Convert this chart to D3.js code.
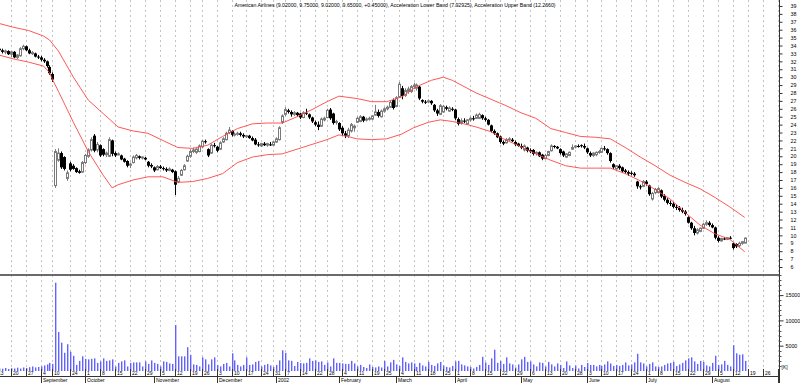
<!DOCTYPE html>
<html><head><meta charset="utf-8">
<script src="https://cdn.jsdelivr.net/npm/d3@7"></script>
<style>
body{margin:0;background:#fff}
svg{display:block}
text{font-family:"Liberation Sans",Arial,sans-serif;fill:#000}
</style>
</head><body>
<svg id="chart" width="800" height="383"></svg>
<script>
// ---------------- DATA ----------------
const titleText = "American Airlines (9.02000, 9.75000, 9.02000, 9.65000, +0.45000), Acceleration Lower Band (7.92925), Acceleration Upper Band (12.2660)";
const calendarStart = "2001-08-13";
const calendarEnd = "2002-09-06";
const dataStart = "2001-08-14";
const holidays = ["2001-09-03","2001-09-11","2001-09-12","2001-09-13","2001-09-14","2001-11-22","2001-12-25","2002-01-01","2002-01-21","2002-02-18","2002-03-29","2002-05-27","2002-07-04","2002-09-02"];
const monthNames = ["2002","February","March","April","May","June","July","August","September","October","November","December"];
const priceTicks = [6,7,8,9,10,11,12,13,14,15,16,17,18,19,20,21,22,23,24,25,26,27,28,29,30,31,32,33,34,35,36,37,38,39];
const volumeTicks = [5000,10000,15000];
const volumeUnitLabel = "[K]";

const opens = [33.6,33.4,33.2,33.3,32.9,33.2,32.5,32.7,33.6,33.9,33.4,33.0,33.0,32.6,32.5,32.2,32.0,31.3,30.4,
16.3,19.5,20.4,19.9,17.2,19.1,18.8,18.5,18.1,18.0,
19.2,20.0,20.8,22.6,20.8,21.4,20.9,20.2,20.0,22.0,
20.4,20.2,20.1,19.7,19.4,18.9,19.2,19.8,20.0,19.8,
19.8,19.3,18.9,18.6,18.3,18.7,18.5,18.4,18.2,18.3,
18.1,16.8,17.6,18.3,19.4,20.0,20.6,20.5,20.6,21.2,
21.9,20.9,20.4,21.4,21.2,20.9,21.8,22.1,23.0,23.2,
22.7,22.8,22.9,22.7,22.5,22.6,22.3,22.1,21.5,21.3,
21.6,21.4,21.5,21.4,21.8,22.1,24.3,25.3,25.8,25.6,
25.3,25.5,25.4,24.9,25.5,25.3,24.9,24.3,24.0,23.8,
24.6,24.9,25.9,25.4,24.3,24.2,23.6,22.9,22.6,23.2,
23.6,24.3,24.4,25.0,24.6,24.7,24.7,25.2,25.6,25.0,
25.7,26.0,26.2,27.1,26.3,27.5,28.6,27.7,28.2,28.2,
28.8,28.6,28.8,27.1,26.9,26.9,27.0,26.5,25.8,25.3,
25.6,26.2,25.7,26.0,25.9,24.7,24.2,24.5,24.1,24.6,
24.8,24.8,24.8,25.2,24.8,24.6,23.9,23.2,22.9,22.5,
21.8,21.7,22.1,22.1,21.8,21.6,21.3,20.8,21.1,20.8,
20.8,20.4,20.5,20.2,19.7,20.1,20.7,21.3,21.2,20.9,
20.6,19.9,20.1,20.9,21.2,21.3,21.4,21.3,21.0,20.4,
20.1,20.2,20.5,20.5,21.0,20.9,20.4,19.0,18.4,18.8,
18.6,18.2,18.0,17.9,17.8,16.8,16.2,16.2,16.8,16.3,
14.6,15.4,15.4,15.7,15.0,14.5,14.1,14.0,13.6,13.5,
13.2,13.0,12.3,11.6,10.9,10.3,10.5,10.9,11.4,11.6,
11.3,11.0,9.7,9.3,9.6,9.5,9.7,9.0,8.9,8.7,
9.0,9.02];

const highs = [33.9,33.6,33.5,33.4,33.3,33.3,32.9,33.8,34.1,34.0,33.6,33.3,33.1,32.8,32.7,32.4,32.1,31.5,30.6,
20.9,21.0,20.6,20.0,18.2,19.3,19.0,18.6,18.3,19.4,
20.3,21.0,22.4,22.8,21.8,21.5,21.0,20.6,22.4,22.1,
20.6,20.5,20.2,19.8,19.5,19.2,20.1,20.3,20.1,20.0,
19.9,19.4,19.1,18.7,18.9,18.9,18.7,18.6,18.6,18.4,
18.2,17.5,18.4,19.0,20.2,20.9,21.1,21.0,21.5,22.1,
22.1,21.0,21.6,21.7,21.3,21.9,22.4,23.1,23.7,23.3,
23.0,23.1,23.1,22.9,22.7,22.7,22.5,22.3,21.8,21.7,
21.8,21.7,21.8,21.9,22.4,23.8,25.3,26.2,26.0,25.8,
25.7,25.6,25.5,25.7,26.0,25.4,25.0,24.5,24.4,24.9,
25.0,26.0,26.1,25.5,24.6,24.3,23.8,23.2,23.6,24.2,
24.0,25.0,25.2,25.1,24.9,25.0,25.2,26.5,25.9,25.9,
26.2,26.4,27.0,27.3,27.6,29.4,28.9,28.6,28.8,29.0,
29.3,29.2,28.9,27.2,27.1,27.2,27.1,26.6,26.0,26.6,
26.5,26.4,26.3,26.2,26.0,24.9,24.8,24.8,24.7,25.0,
25.1,25.4,25.5,25.3,25.0,24.7,24.0,23.4,23.0,22.6,
22.0,22.3,22.4,22.3,22.0,21.7,21.6,21.5,21.2,21.0,
20.9,20.6,20.6,20.3,20.3,20.7,21.5,21.4,21.3,21.0,
20.7,20.4,20.6,21.5,21.4,21.5,21.5,21.6,21.1,20.6,
20.5,20.6,20.8,21.1,21.3,21.0,20.5,19.1,18.9,19.0,
18.7,18.4,18.2,18.1,18.0,16.9,16.4,17.0,17.0,16.4,
15.5,16.0,16.1,15.8,15.2,14.7,14.4,14.2,13.9,13.7,
13.5,13.2,12.4,11.7,11.2,10.9,11.0,11.6,11.9,11.8,
11.5,11.1,9.9,9.7,9.8,9.8,9.9,9.1,9.0,9.2,
9.3,9.75];

const lows = [33.3,33.0,32.9,32.8,32.5,32.4,32.3,32.6,33.4,33.3,32.9,32.8,32.5,32.3,32.0,31.8,31.2,30.3,29.4,
16.0,19.3,18.4,18.2,16.9,18.1,18.3,17.9,17.8,17.9,
19.0,19.8,20.6,20.5,20.5,19.9,20.0,19.9,19.9,20.0,
19.9,20.1,19.5,19.2,18.6,18.5,19.1,19.6,19.6,19.6,
19.5,18.6,18.5,18.0,18.2,18.4,18.2,18.0,18.1,17.9,
15.1,16.6,17.5,18.2,19.3,19.8,20.4,20.3,20.5,21.0,
21.6,19.9,20.3,21.1,20.5,20.8,21.7,22.0,22.8,22.5,
22.5,22.6,22.5,22.3,22.3,22.2,21.9,21.4,21.2,21.2,
21.3,21.2,21.3,21.3,21.7,22.0,24.1,25.1,25.4,25.0,
25.1,25.0,24.7,24.8,25.2,24.7,24.2,23.8,23.3,23.7,
24.4,24.8,24.6,24.0,24.0,23.2,22.6,22.3,22.3,23.0,
23.1,24.2,24.3,24.3,24.4,24.5,24.6,25.1,24.9,24.9,
25.5,25.8,26.1,25.9,26.2,27.4,27.2,27.5,27.9,28.0,
28.5,28.3,27.1,26.7,26.6,26.7,26.5,25.6,25.1,25.2,
25.5,25.8,25.6,25.7,24.6,23.9,24.0,24.2,24.0,24.4,
24.5,24.7,24.7,24.6,24.4,23.9,23.0,22.7,22.3,21.6,
21.4,21.6,21.9,21.8,21.3,21.2,20.9,20.6,20.5,20.4,
20.1,20.1,19.9,19.5,19.6,20.0,20.6,21.0,20.9,20.2,
19.9,19.8,20.0,20.8,21.0,21.1,21.1,20.9,20.3,19.9,
19.9,20.0,20.3,20.4,20.7,20.2,19.2,18.4,18.3,18.3,
17.9,17.8,17.5,17.6,17.4,15.9,15.8,16.1,16.3,15.0,
14.4,15.2,15.3,14.7,14.3,13.9,13.7,13.4,13.2,13.0,
12.8,12.5,11.5,10.7,10.0,10.1,10.4,10.8,11.2,11.1,
10.9,9.5,9.1,9.2,9.4,9.4,9.5,8.2,8.4,8.5,
8.8,9.02];

const closes = [33.4,33.2,33.3,32.9,33.2,32.5,32.8,33.6,33.9,33.4,33.0,33.1,32.6,32.5,32.2,32.0,31.4,30.5,29.7,
20.6,20.4,18.6,18.4,17.9,18.3,18.4,18.0,17.9,19.2,
20.1,20.8,22.1,20.7,21.5,20.1,20.2,20.4,22.1,20.3,
20.1,20.3,19.6,19.3,18.8,19.0,19.9,20.1,19.8,19.9,
19.6,18.8,18.7,18.2,18.7,18.5,18.4,18.2,18.4,18.0,
16.4,17.2,18.2,18.8,20.0,20.6,20.8,20.9,21.3,21.9,
21.8,20.1,21.4,21.3,20.7,21.7,22.2,22.9,23.3,22.7,
22.8,22.9,22.7,22.5,22.6,22.3,22.0,21.5,21.4,21.6,
21.4,21.6,21.4,21.8,22.2,23.6,25.1,25.9,25.6,25.3,
25.5,25.2,24.9,25.5,25.4,24.9,24.4,24.0,23.7,24.7,
24.8,25.8,24.8,24.2,24.4,23.4,22.9,22.6,23.3,24.0,
23.8,24.8,25.0,24.5,24.7,24.8,25.1,25.6,25.1,25.7,
26.0,26.2,26.8,26.1,27.4,29.1,27.6,28.3,28.5,28.8,
29.0,29.0,27.3,26.9,26.8,27.0,26.7,25.8,25.4,26.4,
26.3,26.0,26.1,25.9,24.8,24.1,24.5,24.4,24.6,24.8,
24.7,25.2,25.3,24.8,24.6,24.0,23.2,22.9,22.4,21.8,
21.6,22.1,22.2,21.9,21.5,21.3,21.1,21.3,20.7,20.6,
20.3,20.5,20.0,19.7,20.1,20.6,21.3,21.2,21.0,20.4,
20.1,20.3,20.5,21.1,21.3,21.2,21.3,21.1,20.5,20.1,
20.4,20.5,20.6,21.0,20.9,20.4,19.4,18.6,18.8,18.5,
18.1,18.0,17.8,17.8,17.6,16.2,16.1,16.8,16.5,15.2,
15.3,15.8,15.9,14.9,14.5,14.1,14.0,13.6,13.5,13.2,
13.0,12.7,11.6,10.9,10.3,10.7,10.9,11.4,11.6,11.3,
11.0,9.7,9.3,9.6,9.5,9.7,9.6,8.4,8.6,9.0,
9.2,9.65];

const volumes = [500,450,600,400,550,500,650,480,700,600,750,900,700,800,
900,1100,1300,1600,1400,
17450,7700,5600,3600,5300,3800,3000,1200,2000,2900,
2400,2300,2400,2500,1600,1900,2500,2000,2100,2300,
900,1600,1900,2100,900,1600,1700,1700,1700,900,
1900,1400,2100,1600,1400,900,1900,1800,1500,1400,
9100,2900,2900,2900,4700,3200,1300,1200,900,2700,
2300,1300,2300,2700,1200,900,1400,1600,900,3500,
2100,1200,900,1200,2700,1200,1300,1800,2000,900,
1200,1400,1100,800,1200,2100,4100,3600,2100,2000,
1000,1800,1600,1500,1600,2500,2000,2100,1800,1900,
1200,1700,900,2500,1600,1600,1500,1400,1400,2000,
1500,900,1200,800,600,1300,800,700,900,700,
2000,900,1700,2200,1300,1000,2700,1800,1500,1700,
1500,800,1600,1100,900,1800,1200,1000,1500,1800,
1100,800,700,1000,1900,2000,1300,1100,900,800,
500,800,1200,2800,1700,1200,2500,4200,1600,2000,
1400,2700,1500,1300,700,1300,2300,2800,1800,1900,
1300,900,1700,1600,900,1800,1300,900,1500,1200,
600,1900,1100,600,1100,500,1200,800,1600,1200,
1200,900,1200,1000,1300,1900,1500,1000,1200,1000,
1200,1700,1100,1300,1700,3400,1700,1500,900,1400,
1700,900,800,900,1200,1500,1600,1800,1000,1300,
1600,2100,2500,2700,1900,1400,2000,1800,1100,900,
1600,3000,1200,1300,2000,1200,900,5100,3500,3200,
3300,2000];

// acceleration bands, sampled trading days (counted from dataStart)
const upperBandDays = [0,5,10,15,17,20,25,30,35,40,45,50,55,60,65,70,75,80,85,90,95,100,105,110,114,120,125,130,135,140,145,149,152,157,160,165,170,175,180,185,190,195,200,205,210,215,220,225,230,235,240,245,250];
const upperBand = [36.8,36.3,35.9,35.2,34.7,33.3,30.0,27.1,25.4,23.7,23.2,22.9,22.0,21.1,21.0,21.4,22.5,23.5,24.1,24.2,24.2,25.0,25.9,26.9,27.6,27.3,26.9,26.9,27.5,28.8,29.6,30.0,29.6,28.6,28.0,27.2,26.4,25.5,24.8,23.5,23.0,22.5,22.4,22.2,21.1,19.9,18.8,17.6,16.7,15.9,14.8,13.6,12.266];
const lowerBandDays = [0,5,10,15,17,18,20,25,30,35,38,40,45,50,55,60,65,70,75,80,85,90,95,100,105,110,114,117,120,125,130,135,139,144,148,152,157,160,165,168,175,180,185,190,195,200,205,210,215,220,225,230,235,240,245,250];
const lowerBand = [32.8,32.3,31.9,31.4,30.6,29.7,28.2,24.3,20.6,17.6,16.0,16.4,17.0,17.4,17.4,16.7,16.8,17.2,17.8,19.2,19.9,20.2,20.3,20.9,21.5,22.1,22.7,22.5,22.2,22.1,22.2,22.8,23.6,24.3,24.6,24.4,24.0,23.7,23.1,22.4,21.2,20.3,19.5,18.8,18.5,18.5,18.5,17.8,16.9,15.8,14.6,12.9,11.3,10.2,9.5,7.929];

// ---------------- CHECKS ----------------
const lens = [opens.length, highs.length, lows.length, closes.length, volumes.length];
if (lens.some(l => l !== lens[0])) throw new Error("length mismatch " + lens.join(","));
if (upperBand.length !== upperBandDays.length || lowerBand.length !== lowerBandDays.length)
  throw new Error("band mismatch");

// ---------------- CALENDAR ----------------
const parse = d3.timeParse("%Y-%m-%d"), fmt = d3.timeFormat("%Y-%m-%d");
const holidaySet = new Set(holidays);
const dates = [];
for (let d = parse(calendarStart); d <= parse(calendarEnd); d = d3.timeDay.offset(d, 1)) {
  const wd = d.getDay();
  if (wd === 0 || wd === 6 || holidaySet.has(fmt(d))) continue;
  dates.push(d);
}
const dateIndex = new Map(dates.map((d, i) => [fmt(d), i]));
const off = dateIndex.get(dataStart);

// ---------------- LAYOUT ----------------
const W = 800, H = 383, axisX = 779;
const svg = d3.select("#chart");
const x = d3.scaleLinear()
  .domain([dateIndex.get("2001-08-20"), dateIndex.get("2002-08-19")])
  .range([10.7, 747.7]);
const yP = d3.scaleLinear().domain([6, 39]).range([267, 5.97]);
const yV = d3.scaleLinear().domain([0, 15000]).range([371, 295.1]);

svg.append("defs").append("clipPath").attr("id", "clip")
  .append("rect").attr("x", 0).attr("y", 0).attr("width", axisX).attr("height", H);
const plot = svg.append("g").attr("clip-path", "url(#clip)");

// week ticks (first trading day of each week)
const weekTicks = [];
let lastKey = null, lastIdx = -10;
dates.forEach((d, i) => {
  const key = +d3.timeMonday.floor(d);
  if (key !== lastKey) {
    lastKey = key;
    if (i - lastIdx >= 2) { weekTicks.push(i); lastIdx = i; }
  }
});
// month ticks (first trading day of each month)
const monthTicks = [];
dates.forEach((d, i) => {
  if (i > 0 && d.getMonth() !== dates[i - 1].getMonth()) monthTicks.push(i);
});

// grid
plot.append("g").selectAll("line").data(weekTicks).join("line")
  .attr("x1", i => Math.round(x(i)) + 0.5).attr("x2", i => Math.round(x(i)) + 0.5)
  .attr("y1", 0).attr("y2", 369)
  .attr("stroke", "#c4c4c4").attr("stroke-width", 1).attr("stroke-dasharray", "2,3");

// title
svg.append("text").attr("x", 395).attr("y", 6.5).attr("text-anchor", "middle")
  .style("font-size", "5.2px").text(titleText);

// volume bars
plot.append("g").selectAll("rect").data(volumes).join("rect")
  .attr("x", (v, k) => Math.round(x(k + off)))
  .attr("width", 1.4)
  .attr("y", v => yV(v)).attr("height", v => yV(0) - yV(v))
  .attr("fill", "#6262ff");

// candles
const candles = opens.map((o, k) => ({k: k + off, o, h: Math.max(highs[k], o, closes[k]), l: Math.min(lows[k], o, closes[k]), c: closes[k]}));
const cg = plot.append("g");
candles.forEach(d => {
  const cx = Math.round(x(d.k));
  const up = d.c >= d.o;
  cg.append("line").attr("x1", cx + 0.5).attr("x2", cx + 0.5)
    .attr("y1", yP(d.h)).attr("y2", yP(d.l))
    .attr("stroke", up ? "#7a7a7a" : "#000").attr("stroke-width", 1);
  const top = yP(Math.max(d.o, d.c)), bot = yP(Math.min(d.o, d.c));
  if (up) {
    cg.append("rect").attr("x", cx - 0.5).attr("width", 2)
      .attr("y", top).attr("height", Math.max(bot - top, 1))
      .attr("fill", "#fff").attr("stroke", "#7a7a7a").attr("stroke-width", 1);
  } else {
    cg.append("rect").attr("x", cx - 1).attr("width", 3)
      .attr("y", top).attr("height", Math.max(bot - top, 1))
      .attr("fill", "#000");
  }
});

// bands
const line = d3.line().x(d => x(d[0] + off)).y(d => yP(d[1]));
plot.append("path").datum(upperBandDays.map((d, i) => [d, upperBand[i]]))
  .attr("d", line).attr("fill", "none").attr("stroke", "#ff4444").attr("stroke-width", 0.9);
plot.append("path").datum(lowerBandDays.map((d, i) => [d, lowerBand[i]]))
  .attr("d", line).attr("fill", "none").attr("stroke", "#ff4444").attr("stroke-width", 0.9);

// panel separator & frame lines
svg.append("line").attr("x1", 0).attr("x2", axisX).attr("y1", 275).attr("y2", 275)
  .attr("stroke", "#6a6a6a").attr("stroke-width", 2);
svg.append("line").attr("x1", 0).attr("x2", axisX).attr("y1", 376.5).attr("y2", 376.5)
  .attr("stroke", "#333").attr("stroke-width", 1);
svg.append("line").attr("x1", axisX + 0.5).attr("x2", axisX + 0.5).attr("y1", 0).attr("y2", H)
  .attr("stroke", "#333").attr("stroke-width", 1);

// week ticks + labels
const wk = plot.append("g");
wk.selectAll("line").data(weekTicks).join("line")
  .attr("x1", i => Math.round(x(i)) + 0.5).attr("x2", i => Math.round(x(i)) + 0.5)
  .attr("y1", 369).attr("y2", 376.5).attr("stroke", "#333");
wk.selectAll("text").data(weekTicks.filter(i => x(i) < axisX - 8)).join("text")
  .attr("x", i => Math.round(x(i)) + 2).attr("y", 375)
  .style("font-size", "5px").text(i => d3.timeFormat("%-d")(dates[i]));

// month ticks + labels
const mg = plot.append("g");
mg.selectAll("line").data(monthTicks).join("line")
  .attr("x1", i => Math.round(x(i)) + 0.5).attr("x2", i => Math.round(x(i)) + 0.5)
  .attr("y1", 376.5).attr("y2", H).attr("stroke", "#333");
mg.selectAll("text").data(monthTicks.filter(i => x(i) < axisX - 20)).join("text")
  .attr("x", i => Math.round(x(i)) + 2).attr("y", 382.3)
  .style("font-size", "5px").text(i => monthNames[dates[i].getMonth()]);

// price axis
const pa = svg.append("g").attr("transform", `translate(${axisX + 0.5},0)`)
  .call(d3.axisRight(yP).tickValues(priceTicks).tickSize(3).tickPadding(8).tickFormat(d3.format("d")));
pa.select(".domain").remove();
pa.selectAll(".tick line").attr("stroke", "#333");
pa.selectAll(".tick text").style("font-size", "5.3px").attr("fill", "#000").attr("font-family", null);

// volume axis
const minorV = d3.range(1000, 20000, 1000).filter(v => !volumeTicks.includes(v));
svg.append("g").selectAll("line").data(minorV).join("line")
  .attr("x1", axisX + 0.5).attr("x2", axisX + 2.5)
  .attr("y1", v => Math.round(yV(v)) + 0.5).attr("y2", v => Math.round(yV(v)) + 0.5)
  .attr("stroke", "#555");
const va = svg.append("g").attr("transform", `translate(${axisX + 0.5},0)`)
  .call(d3.axisRight(yV).tickValues(volumeTicks).tickSize(4).tickPadding(2).tickFormat(d3.format("d")));
va.select(".domain").remove();
va.selectAll(".tick line").attr("stroke", "#333");
va.selectAll(".tick text").style("font-size", "5.3px").attr("fill", "#000").attr("font-family", null);
svg.append("text").attr("x", axisX + 2.5).attr("y", 368.5).style("font-size", "5px").text(volumeUnitLabel);
</script>
</body></html>
